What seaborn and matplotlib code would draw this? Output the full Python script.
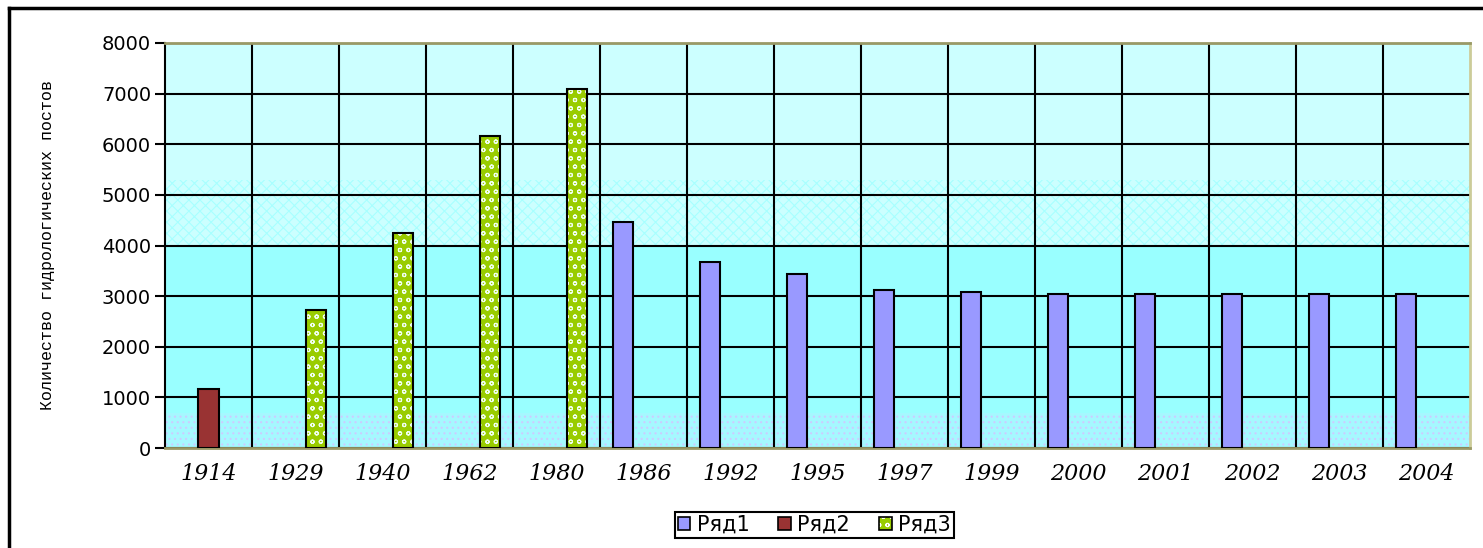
import pandas as pd
import seaborn as sns
import matplotlib.pyplot as plt
from matplotlib.colors import to_rgba
from matplotlib.patches import Patch
from matplotlib.lines import Line2D

# Dados
years = ['1914', '1929', '1940', '1962', '1980', '1986', '1992', '1995',
         '1997', '1999', '2000', '2001', '2002', '2003', '2004']
series_names = ['Ряд1', 'Ряд2', 'Ряд3']

ryad1_years = ['1986', '1992', '1995', '1997', '1999', '2000', '2001', '2002', '2003', '2004']
ryad1_values = [4470, 3680, 3430, 3120, 3080, 3050, 3050, 3050, 3050, 3050]
ryad2_years = ['1914']
ryad2_values = [1160]
ryad3_years = ['1929', '1940', '1962', '1980']
ryad3_values = [2720, 4250, 6160, 7090]

colors = ['#9999FF', '#993333', '#99CC00']
ylabel = 'Количество гидрологических постов'

rows = []
for name, ys, vs in zip(series_names, [ryad1_years, ryad2_years, ryad3_years],
                        [ryad1_values, ryad2_values, ryad3_values]):
    for y, v in zip(ys, vs):
        rows.append({'year': y, 'value': v, 'series': name})
df = pd.DataFrame(rows)

plt.rcParams['hatch.linewidth'] = 0.8

fig = plt.figure(figsize=(14.83, 5.48), dpi=100)
ax = fig.add_axes([165 / 1483, 100 / 548, 1305 / 1483, 405 / 548])

# fundo em faixas (estilo Excel)
ax.set_facecolor('#99FFFF')
ax.axhspan(5300, 8000, color='#CCFFFF', zorder=0.2, lw=0)
ax.axhspan(4000, 5300, facecolor='#CCFFFF', edgecolor='#A8FFFF', hatch='xxx', lw=0, zorder=0.2)
ax.axhspan(0, 700, facecolor='#A5F8FF', edgecolor='#CCCCFF', hatch='...', lw=0, zorder=0.2)

sns.barplot(data=df, x='year', y='value', hue='series', order=years,
            hue_order=series_names, palette=colors, width=0.69, saturation=1,
            dodge=True, edgecolor='black', linewidth=1.5, legend=False, ax=ax, zorder=3)

# barras verdes com padrão branco
for p in ax.patches:
    if p.get_facecolor()[:3] == to_rgba(colors[2])[:3]:
        p.set_hatch('oo')
        p._hatch_color = to_rgba('#F0FFF0')

ax.set_xlim(-0.5, len(years) - 0.5)
ax.set_ylim(0, 8000)
ax.set_yticks(range(0, 8001, 1000))
ax.set_xticks([i + 0.5 for i in range(len(years) - 1)], minor=True)
ax.set_axisbelow(True)
ax.grid(True, axis='y', which='major', color='black', lw=1.5)
ax.grid(True, axis='x', which='minor', color='black', lw=1.5)
ax.grid(False, axis='x', which='major')

ax.tick_params(axis='x', which='both', length=0, pad=11)
ax.tick_params(axis='y', length=7, width=1.5, pad=3)
for t in ax.get_xticklabels():
    t.set_fontfamily('DejaVu Serif')
    t.set_fontstyle('italic')
    t.set_fontsize(16)
for t in ax.get_yticklabels():
    t.set_fontfamily('DejaVu Sans')
    t.set_fontsize(14)

ax.set_xlabel('')
ax.set_ylabel(ylabel, family='Liberation Mono', fontsize=12)
ax.yaxis.set_label_coords(-0.084, 0.5)

ax.spines['left'].set_color('black')
ax.spines['left'].set_linewidth(1.5)
ax.spines['bottom'].set_color('#999966')
ax.spines['top'].set_color('#999966')
ax.spines['right'].set_color('#CCCC99')
for s in ['bottom', 'top', 'right']:
    ax.spines[s].set_linewidth(2)

# legenda
handles = [Patch(facecolor=c, edgecolor='black', lw=1.2) for c in colors]
leg = fig.legend(handles, series_names, loc='center', bbox_to_anchor=(0.549, 0.042),
                 ncol=3, handlelength=0.6, handleheight=0.6, handletextpad=0.3,
                 columnspacing=1.4, fontsize=15, fancybox=False, framealpha=1,
                 edgecolor='black', borderpad=0.15, borderaxespad=0)
leg.get_frame().set_linewidth(1.5)
leg.legend_handles[2].set_hatch('oo')
leg.legend_handles[2]._hatch_color = to_rgba('white')

# moldura da figura
fig.add_artist(Line2D([9 / 1483, 9 / 1483], [0, 1 - 8 / 548], color='black', lw=2.5))
fig.add_artist(Line2D([9 / 1483, 1], [1 - 8 / 548, 1 - 8 / 548], color='black', lw=2.5))

plt.savefig('out.png', dpi=100)
